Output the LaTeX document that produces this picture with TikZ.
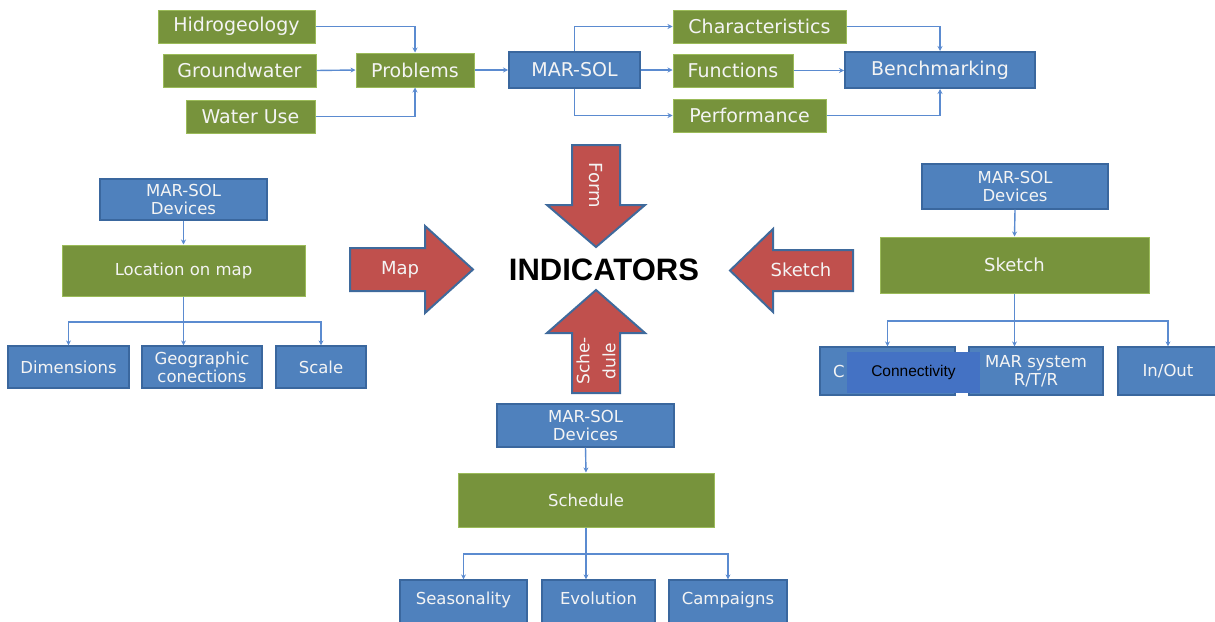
\documentclass[tikz,border=0pt]{standalone}
\usepackage{fontspec}
\setmainfont{DejaVu Sans}
\newfontfamily\arialfont{Liberation Sans}
\usetikzlibrary{arrows.meta}
\definecolor{leaf}{HTML}{77933C}
\definecolor{leafedge}{HTML}{9BBB59}
\definecolor{sky}{HTML}{4F81BD}
\definecolor{skyedge}{HTML}{3A679E}
\definecolor{wire}{HTML}{5B8BD0}
\definecolor{brick}{HTML}{C0504D}
\definecolor{brickedge}{HTML}{3F6A9C}
\definecolor{overlay}{HTML}{4472C4}
\definecolor{paper}{HTML}{F4F4F4}
\tikzset{
  gbox/.style={draw=leafedge, line width=1pt, fill=leaf, text=paper, inner sep=0pt, align=center},
  bbox/.style={draw=skyedge, line width=1.2pt, fill=sky, text=paper, inner sep=0pt, align=center},
  big/.style={font=\fontsize{19}{22}\selectfont},
  small/.style={font=\fontsize{16.5}{18}\selectfont},
  conn/.style={draw=wire, line width=1.4pt, -{Stealth[length=5pt,width=5pt]}},
  wireline/.style={draw=wire, line width=1.4pt},
  redarrow/.style={fill=brick, draw=brickedge, line width=2pt, line join=miter},
  arrowtext/.style={text=paper, font=\fontsize{18}{19}\selectfont, align=center, inner sep=0pt}
}
\begin{document}
\begin{tikzpicture}[x=1pt, y=-1pt]
\useasboundingbox (0,0) rectangle (1215,621);

% ---- top row: problems -> MAR-SOL -> benchmarking
\node[gbox, big, minimum width=157, minimum height=33] (hid) at (236.5,26.5) {Hidrogeology};
\node[gbox, big, minimum width=153, minimum height=33] (gw) at (239.5,70.5) {Groundwater};
\node[gbox, big, minimum width=129, minimum height=33] (wu) at (250.5,116.5) {Water Use};
\node[gbox, big, minimum width=118, minimum height=34] (prob) at (415,70) {Problems};
\node[bbox, big, minimum width=131, minimum height=36, line width=2pt] (mar) at (574.5,70) {MAR-SOL};
\node[gbox, big, minimum width=173, minimum height=33] (char) at (759.5,26.5) {Characteristics};
\node[gbox, big, minimum width=120, minimum height=33] (func) at (733,70.5) {Functions};
\node[gbox, big, minimum width=153, minimum height=33] (perf) at (749.5,115.5) {Performance};
\node[bbox, big, minimum width=190, minimum height=36, line width=2pt] (bench) at (940,70) {Benchmarking};

\draw[conn] (hid.east) -| (prob.north);
\draw[conn] (gw.east) -- (prob.west);
\draw[conn] (wu.east) -| (prob.south);
\draw[conn] (prob.east) -- (mar.west);
\draw[conn] (mar.north) |- (char.west);
\draw[conn] (mar.east) -- (func.west |- mar.east);
\draw[conn] (mar.south) |- (perf.west);
\draw[conn] (char.east) -| (bench.north);
\draw[conn] (func.east) -- (bench.west |- func.east);
\draw[conn] (perf.east) -| (bench.south);

% ---- left tree: map
\node[bbox, small, minimum width=167, minimum height=41] (ldev) at (183.5,199.5) {MAR-SOL\\Devices};
\node[gbox, small, minimum width=243, minimum height=51] (lmap) at (183.5,270.5) {Location on map};
\node[bbox, small, minimum width=121, minimum height=42] (dim) at (68.5,367) {Dimensions};
\node[bbox, small, minimum width=120, minimum height=42] (geo) at (202,367) {Geographic\\conections};
\node[bbox, small, minimum width=90, minimum height=42] (scale) at (321,367) {Scale};
\coordinate (lbus) at (183.5,322);
\draw[conn] (ldev.south) -- (lmap.north);
\draw[conn] (lmap.south) -- (lmap.south |- geo.north);
\draw[conn] (lbus) -| (dim.north);
\draw[conn] (lbus) -| (scale.north);

% ---- right tree: sketch
\node[bbox, small, minimum width=186, minimum height=45] (rdev) at (1015,186.5) {MAR-SOL\\Devices};
\node[gbox, small, font=\fontsize{18}{20}\selectfont, minimum width=269, minimum height=56] (rsk) at (1014.5,265) {Sketch};
\node[bbox, small, minimum width=135, minimum height=48] (conb) at (887.5,371) {};
\node[bbox, small, minimum width=134, minimum height=48] (msys) at (1036,371) {MAR system\\R/T/R};
\node[bbox, small, minimum width=100, minimum height=48] (inout) at (1168,371) {In/Out};
\node[text=paper, small, anchor=west, inner sep=0pt] (cchar) at (833,371) {C};
\node[fill=overlay, minimum width=133, minimum height=41, inner sep=0pt,
      font=\arialfont\fontsize{15.5}{17}\selectfont, text=black] (conn) at (913.5,372.5) {Connectivity};
\coordinate (rbus) at (1015,321);
\draw[conn] (rdev.south) -- (rsk.north);
\draw[conn] (rsk.south) -- (rsk.south |- msys.north);
\draw[conn] (rbus) -| (conb.north);
\draw[conn] (rbus) -| (inout.north);

% ---- bottom tree: schedule
\node[bbox, small, minimum width=177, minimum height=43] (bdev) at (585.5,425.5) {MAR-SOL\\Devices};
\node[gbox, small, minimum width=256, minimum height=54] (bsch) at (586,500) {Schedule};
\node[bbox, small, minimum width=127, minimum height=46, text depth=10pt] (seas) at (463.5,603) {Seasonality};
\node[bbox, small, minimum width=113, minimum height=46, text depth=10pt] (evo) at (598.5,603) {Evolution};
\node[bbox, small, minimum width=118, minimum height=46, text depth=10pt] (camp) at (728,603) {Campaigns};
\coordinate (bbus) at (586,554);
\draw[conn] (bdev.south) -- (bsch.north);
\draw[conn] (bsch.south) -- (bsch.south |- evo.north);
\draw[conn] (bbus) -| (seas.north);
\draw[conn] (bbus) -| (camp.north);

% ---- block arrows around the centre
\draw[redarrow] (350,248) -- (425,248) -- (425,226) -- (473,269.5) -- (425,313) -- (425,291) -- (350,291) -- cycle;
\draw[redarrow] (853,250) -- (773,250) -- (773,229) -- (730,270.5) -- (773,312) -- (773,291) -- (853,291) -- cycle;
\draw[redarrow] (572,145) -- (620,145) -- (620,205) -- (645,205) -- (596,247) -- (547,205) -- (572,205) -- cycle;
\draw[redarrow] (572,393) -- (620,393) -- (620,333) -- (645,333) -- (596,290) -- (547,333) -- (572,333) -- cycle;

\node[arrowtext] (tmap) at (400,270) {Map};
\node[arrowtext] (tsketch) at (801,270) {Sketch};
\node[arrowtext, rotate=-90] (tform) at (596,185) {Form};
\node[arrowtext, rotate=90, font=\fontsize{17}{26}\selectfont] (tsched) at (596,361) {Sche-\\dule};

\node[font=\arialfont\bfseries\fontsize{31}{33}\selectfont, inner sep=0pt] (ind) at (604,270) {INDICATORS};
\end{tikzpicture}
\end{document}
